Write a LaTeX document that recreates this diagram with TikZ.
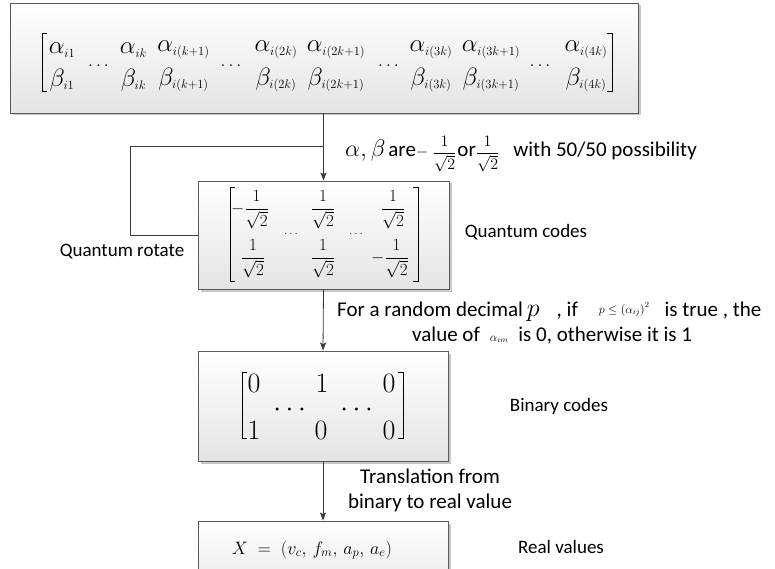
\RequirePackage{fix-cm}
\documentclass[tikz,border=0pt]{standalone}
\usepackage{amsmath}
\usepackage{fontspec}
\setmainfont{Carlito}
\usetikzlibrary{arrows.meta,shadows}
\definecolor{boxline}{HTML}{5A5A5A}
\definecolor{boxbot}{HTML}{E4E4E4}
\definecolor{lineclr}{HTML}{3A3A3A}
\tikzset{
  box/.style={draw=boxline, line width=0.9pt, top color=white, bottom color=boxbot,
    drop shadow={shadow xshift=2.5pt, shadow yshift=-2.5pt, fill=black!22, opacity=1},
    inner sep=0pt},
  flow/.style={draw=lineclr, line width=0.8pt},
  arrow/.style={flow, -{Stealth[length=8pt,width=6pt,inset=1.5pt]}},
  lbl/.style={font=\fontsize{19}{25}\selectfont, inner sep=0pt},
  elbl/.style={font=\fontsize{21}{25}\selectfont, inner sep=0pt},
  ent/.style={inner sep=0pt, font=\fontsize{25}{28}\selectfont},
  qent/.style={inner sep=0pt, font=\fontsize{17}{19}\selectfont},
  bent/.style={inner sep=0pt, font=\fontsize{28}{30}\selectfont},
  brk/.style={draw=black, line width=0.8pt},
}
\begin{document}
\begin{tikzpicture}[x=1pt, y=-1pt]
\useasboundingbox (0,0) rectangle (775,569);
\clip (0,0) rectangle (775,569);

% ---- boxes
\node[box, minimum width=628pt, minimum height=110pt] (top) at (324,58) {};
\node[box, minimum width=251pt, minimum height=108pt] (q) at (323.5,235) {};
\node[box, minimum width=250pt, minimum height=110pt] (bin) at (323,406) {};
\node[box, minimum width=250pt, minimum height=80pt] (real) at (323,561) {};

% ---- top matrix
\foreach \x/\s [count=\n] in {62/1, 133.5/k, 183.5/(k+1), 276/(2k), 336/(2k+1), 431/(3k), 491/(3k+1), 586/(4k)} {
  \node[ent] (a\n) at (\x,50) {$\alpha_{\scriptscriptstyle i\s}$};
  \node[ent] (b\n) at (\x,80) {$\beta_{\scriptscriptstyle i\s}$};
}
\foreach \x [count=\n] in {98.5,231,388.5,540}
  \node[ent, font=\fontsize{18}{20}\selectfont] (d\n) at (\x,66) {$\ldots$};
\draw[brk] (47,33) -- (42,33) -- (42,91) -- (47,91);
\draw[brk] (607,33) -- (612,33) -- (612,91) -- (607,91);

% ---- quantum matrix
\node[qent, anchor=east] (q11) at (269,210) {$-\dfrac{1}{\sqrt{2}}$};
\node[qent] (q12) at (323,210) {$\dfrac{1}{\sqrt{2}}$};
\node[qent] (q13) at (393,210) {$\dfrac{1}{\sqrt{2}}$};
\node[qent] (q21) at (253,259) {$\dfrac{1}{\sqrt{2}}$};
\node[qent] (q22) at (323,259) {$\dfrac{1}{\sqrt{2}}$};
\node[qent, anchor=east] (q23) at (409,259) {$-\dfrac{1}{\sqrt{2}}$};
\node[qent, font=\fontsize{12}{14}\selectfont] (qd1) at (291,234) {$\ldots$};
\node[qent, font=\fontsize{12}{14}\selectfont] (qd2) at (356,234) {$\ldots$};
\draw[brk] (235,187) -- (230,187) -- (230,281) -- (235,281);
\draw[brk] (413,187) -- (418,187) -- (418,281) -- (413,281);

% ---- binary matrix
\node[bent] (b11) at (254,383) {$0$};
\node[bent] (b12) at (322,383) {$1$};
\node[bent] (b13) at (389,383) {$0$};
\node[bent] (b21) at (254,430) {$1$};
\node[bent] (b22) at (321,430) {$0$};
\node[bent] (b23) at (389,430) {$0$};
\node[bent] (bd1) at (292,410) {$\cdots$};
\node[bent] (bd2) at (359,410) {$\cdots$};
\draw[brk] (247,372) -- (242,372) -- (242,438) -- (247,438);
\draw[brk] (398,372) -- (403,372) -- (403,438) -- (398,438);

% ---- real values formula
\node[inner sep=0pt, font=\fontsize{18}{20}\selectfont] (xf) at (312,550) {$X\;=\;(v_c,\,f_m,\,a_p,\,a_e)$};

% ---- connectors
\draw[arrow] (top.south -| q.north) -- (q.north);
\draw[arrow] (q.south) -- (bin.north);
\draw[arrow] (bin.south) -- (real.north);
\coordinate (lp) at (323,146);
\coordinate (lc1) at (130,146);
\coordinate (lc2) at (130,235);
\draw[flow] (lp) -- (lc1) -- (lc2) -- (lc2 -| q.west);

% ---- labels
\node[elbl, anchor=base west] (ab) at (345,157)
  {{\fontsize{24}{26}\selectfont$\alpha,\beta$}\hspace{3pt}are{\fontsize{16}{18}\selectfont$-\;\dfrac{1}{\sqrt{2}}$}\hspace{1pt}or{\fontsize{16}{18}\selectfont$\dfrac{1}{\sqrt{2}}$}\hspace{14pt}with 50/50 possibility};
\node[lbl] (qr) at (122,252) {Quantum rotate};
\node[lbl] (qc) at (526,232) {Quantum codes};
\node[elbl, anchor=base west] (rnd1) at (337,316)
  {For a random decimal\hspace{4pt}{\fontsize{26}{28}\selectfont$p$}\hspace{17pt}, if\hspace{21pt}{\fontsize{12}{13}\selectfont\raisebox{3pt}{$p\le\left(\alpha_{ij}\right)^{2}$}}\hspace{15pt}is true , the};
\node[elbl, anchor=base west] (rnd2) at (412,341)
  {value of\hspace{10pt}{\fontsize{12}{13}\selectfont$\alpha_{im}$}\hspace{10pt}is 0, otherwise it is 1};
\node[lbl] (bc) at (559,406) {Binary codes};
\node[elbl, align=center] (tr) at (430,490) {Translation from\\binary to real value};
\node[lbl] (rv) at (561,547) {Real values};
\end{tikzpicture}
\end{document}
